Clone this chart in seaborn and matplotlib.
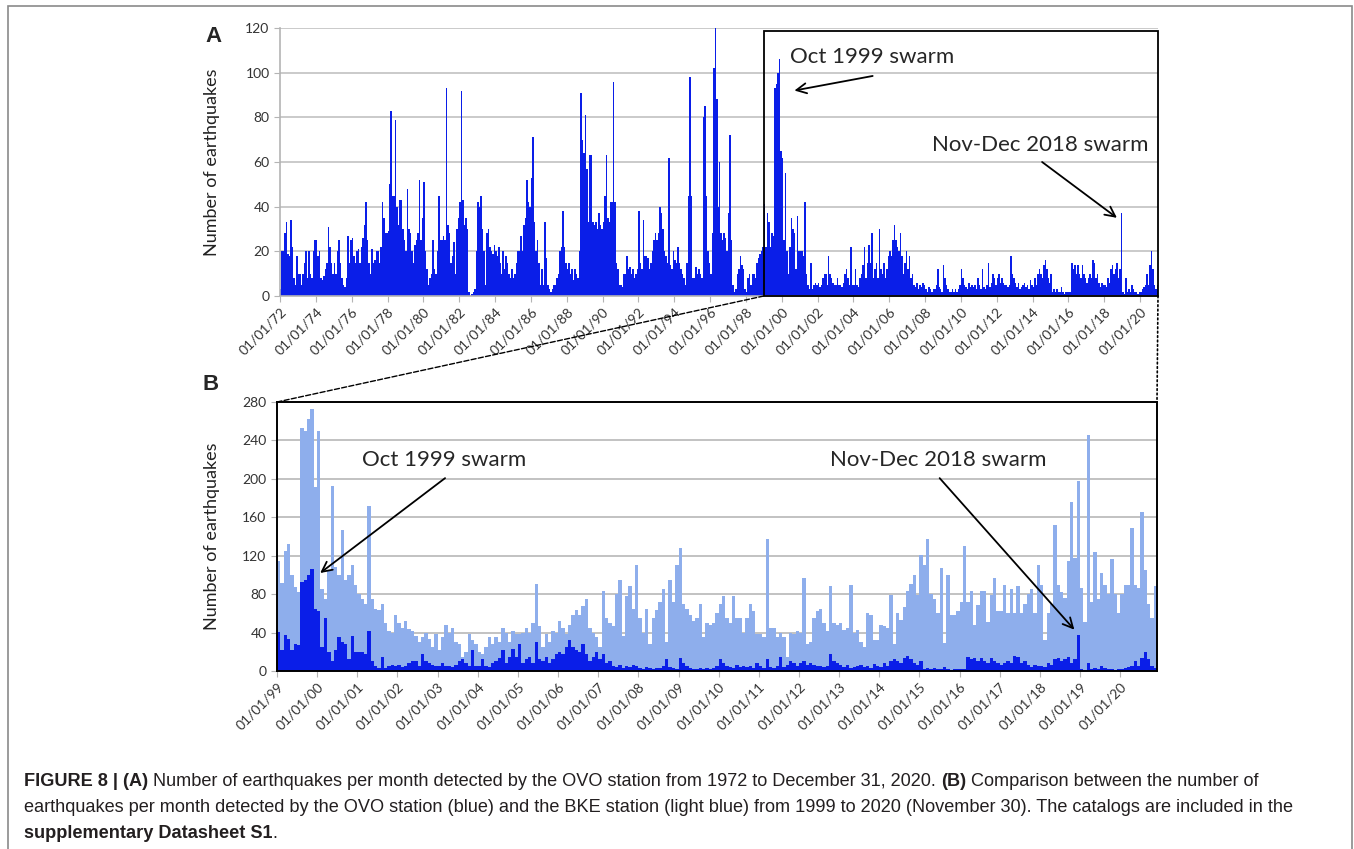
import numpy as np
import pandas as pd
import matplotlib
matplotlib.use("Agg")
import matplotlib.pyplot as plt
from matplotlib.patches import Rectangle, ConnectionPatch
import seaborn as sns

# === Data: earthquakes per month ===
# OVO station, Jan 1972 - Dec 1998 (12 values per year)
ovo_1972_1998 = [
    3, 20, 20, 28, 33, 19, 18, 34, 22, 8, 5, 18,        # 1972
    10, 10, 5, 10, 15, 20, 8, 20, 10, 8, 20, 25,        # 1973
    25, 18, 20, 8, 7, 9, 12, 15, 31, 22, 15, 10,        # 1974
    15, 10, 20, 25, 15, 8, 5, 4, 8, 27, 15, 25,         # 1975
    26, 18, 15, 20, 21, 15, 22, 26, 32, 42, 25, 15,     # 1976
    10, 21, 15, 16, 20, 20, 15, 22, 42, 35, 28, 28,     # 1977
    29, 50, 83, 45, 45, 79, 40, 32, 43, 43, 30, 25,     # 1978
    20, 48, 30, 28, 20, 15, 23, 25, 28, 52, 25, 35,     # 1979
    51, 20, 12, 5, 8, 10, 25, 12, 10, 20, 45, 25,       # 1980
    25, 27, 25, 93, 32, 28, 15, 18, 24, 10, 30, 35,     # 1981
    42, 92, 43, 32, 35, 30, 2, 0, 1, 2, 3, 20,          # 1982
    42, 40, 45, 30, 20, 5, 28, 30, 22, 20, 19, 23,      # 1983
    20, 18, 22, 15, 10, 20, 12, 18, 15, 10, 8, 12,      # 1984
    8, 10, 15, 20, 20, 27, 20, 32, 35, 52, 42, 40,      # 1985
    53, 71, 33, 20, 25, 15, 5, 12, 5, 33, 17, 5,        # 1986
    3, 2, 3, 5, 5, 8, 10, 20, 22, 38, 22, 15,           # 1987
    12, 15, 10, 12, 7, 12, 10, 8, 20, 91, 70, 64,       # 1988
    81, 57, 33, 63, 63, 33, 32, 33, 30, 37, 32, 30,     # 1989
    33, 45, 63, 35, 33, 42, 42, 96, 42, 15, 12, 5,      # 1990
    5, 4, 10, 10, 18, 12, 13, 10, 12, 8, 10, 12,        # 1991
    38, 15, 12, 34, 18, 18, 17, 12, 15, 20, 25, 28,     # 1992
    25, 28, 40, 37, 30, 20, 18, 15, 62, 14, 12, 20,     # 1993
    16, 15, 22, 15, 12, 10, 8, 5, 15, 45, 98, 45,       # 1994
    8, 8, 13, 10, 12, 10, 8, 80, 85, 45, 20, 15,        # 1995
    10, 28, 102, 120, 88, 40, 60, 28, 25, 28, 26, 20,   # 1996
    37, 72, 25, 5, 2, 3, 10, 12, 18, 14, 12, 3,         # 1997
    2, 8, 10, 5, 10, 10, 8, 15, 17, 19, 20, 22,         # 1998
]

# OVO station, Jan 1999 - Dec 2020
ovo_1999_2020 = [
    41, 22, 37, 33, 22, 28, 27, 93, 95, 100, 106, 65,   # 1999
    62, 25, 55, 20, 10, 22, 35, 30, 28, 12, 36, 20,     # 2000
    20, 20, 18, 42, 10, 5, 3, 15, 3, 5, 6, 5,           # 2001
    6, 4, 5, 8, 10, 10, 5, 18, 10, 8, 6, 5,             # 2002
    5, 8, 5, 5, 4, 6, 10, 12, 8, 5, 22, 5,              # 2003
    5, 12, 5, 4, 8, 10, 14, 22, 8, 15, 23, 15,          # 2004
    28, 8, 12, 15, 8, 30, 12, 10, 15, 8, 12, 18,        # 2005
    20, 18, 25, 32, 25, 22, 20, 28, 18, 10, 15, 20,     # 2006
    12, 18, 8, 10, 5, 4, 6, 3, 5, 4, 6, 5,              # 2007
    3, 2, 4, 3, 2, 3, 3, 5, 12, 4, 3, 2,                # 2008
    14, 8, 5, 3, 2, 2, 3, 2, 3, 2, 3, 5,                # 2009
    12, 8, 5, 4, 3, 6, 4, 5, 4, 5, 3, 8,                # 2010
    5, 3, 12, 4, 3, 5, 15, 4, 6, 10, 8, 5,              # 2011
    8, 10, 6, 8, 6, 5, 5, 4, 5, 18, 10, 8,              # 2012
    6, 4, 6, 3, 4, 5, 6, 4, 5, 3, 7, 5,                 # 2013
    4, 8, 5, 10, 12, 10, 8, 14, 16, 12, 8, 6,           # 2014
    10, 2, 3, 2, 3, 2, 2, 4, 2, 1, 2, 2,                # 2015
    2, 2, 15, 12, 14, 10, 14, 10, 8, 14, 10, 8,         # 2016
    6, 8, 10, 8, 16, 15, 8, 10, 6, 4, 6, 5,             # 2017
    5, 4, 8, 6, 12, 14, 10, 12, 15, 8, 12, 37,          # 2018
    2, 1, 8, 2, 3, 2, 5, 3, 2, 2, 1, 2,                 # 2019
    2, 3, 4, 5, 10, 5, 14, 20, 12, 5, 3, 5,             # 2020
]

# BKE station, Jan 1999 - Nov 2020
bke_1999_2020 = [
    115, 92, 125, 132, 100, 87, 82, 253, 250, 262, 273, 192,   # 1999
    250, 85, 75, 105, 193, 108, 100, 147, 95, 100, 110, 90,    # 2000
    80, 75, 70, 172, 75, 65, 63, 70, 50, 42, 40, 58,           # 2001
    50, 45, 52, 44, 42, 36, 30, 35, 40, 33, 25, 38,            # 2002
    22, 35, 48, 40, 45, 30, 28, 15, 20, 38, 32, 28,            # 2003
    20, 18, 25, 35, 28, 35, 30, 45, 40, 30, 42, 38,            # 2004
    38, 40, 45, 40, 50, 91, 47, 25, 38, 30, 42, 40,            # 2005
    52, 45, 38, 48, 58, 63, 58, 68, 75, 45, 40, 35,            # 2006
    25, 83, 55, 50, 47, 80, 95, 36, 78, 88, 65, 110,           # 2007
    55, 40, 65, 28, 55, 63, 72, 85, 30, 95, 72, 110,           # 2008
    128, 70, 65, 58, 52, 55, 70, 35, 50, 48, 50, 60,           # 2009
    70, 78, 55, 50, 78, 55, 55, 40, 55, 70, 62, 38,            # 2010
    38, 35, 137, 45, 45, 35, 40, 35, 15, 40, 38, 42,           # 2011
    40, 97, 28, 30, 55, 62, 65, 50, 42, 88, 50, 48,            # 2012
    50, 43, 45, 90, 40, 43, 30, 25, 60, 58, 32, 32,            # 2013
    48, 47, 45, 79, 28, 60, 53, 67, 83, 91, 100, 79,           # 2014
    121, 110, 137, 80, 75, 60, 107, 29, 100, 58, 58, 62,       # 2015
    72, 130, 72, 83, 48, 69, 83, 83, 51, 79, 97, 62,           # 2016
    62, 90, 60, 85, 60, 88, 60, 70, 80, 85, 60, 110,           # 2017
    90, 32, 60, 70, 152, 90, 82, 76, 114, 176, 118, 198,       # 2018
    86, 51, 246, 72, 124, 75, 102, 90, 80, 117, 80, 60,        # 2019
    80, 90, 90, 149, 90, 86, 165, 105, 70, 55, 88,             # 2020 (to Nov)
]

a_tick_years = list(range(1972, 2021, 2))
b_tick_years = list(range(1999, 2021))

# === Figure geometry (pixels) ===
W, H = 1354, 849
BLUE = "#0a1ee8"
LIGHT = "#8eaeec"
GRID = "#c6c6c6"
CHART_FONT = ["Lato", "DejaVu Sans"]
CAP_FONT = ["Liberation Sans", "DejaVu Sans"]

sns.set_style("white")
plt.rcParams["font.family"] = CHART_FONT


def fx(x):
    return x / W


def fy(y):
    return 1 - y / H


# build frames
ovo_all = ovo_1972_1998 + ovo_1999_2020
dfA = pd.DataFrame({"m": np.arange(len(ovo_all)), "n": ovo_all})
dfB_ovo = pd.DataFrame({"m": np.arange(len(ovo_1999_2020)), "n": ovo_1999_2020})
dfB_bke = pd.DataFrame({"m": np.arange(len(bke_1999_2020)), "n": bke_1999_2020})
dfB_ovo = dfB_ovo[dfB_ovo["m"] < len(bke_1999_2020)]

fig = plt.figure(figsize=(W / 100, H / 100), dpi=100)
axA = fig.add_axes([fx(280), fy(296), (1158 - 280) / W, (296 - 28) / H])
axB = fig.add_axes([fx(277), fy(671), (1157 - 277) / W, (671 - 402) / H])

# === Panel A ===
sns.barplot(data=dfA, x="m", y="n", native_scale=True, width=1, color=BLUE,
            saturation=1, linewidth=0, errorbar=None, ax=axA)
axA.set_xlim(-0.5, len(ovo_all) - 0.5)
axA.set_ylim(0, 120)
axA.set_yticks(range(0, 121, 20))
axA.yaxis.grid(True, color=GRID, lw=1.3)
axA.set_axisbelow(True)
for s in ["top", "right"]:
    axA.spines[s].set_visible(False)
for s in ["left", "bottom"]:
    axA.spines[s].set_color("#b4b4b4")
    axA.spines[s].set_linewidth(1.2)
a_pos = [(y - 1972) * 12 - 0.5 for y in a_tick_years]
axA.set_xticks(a_pos)
axA.set_xticklabels([f"01/01/{y % 100:02d}" for y in a_tick_years],
                    rotation=45, ha="right", rotation_mode="anchor")
axA.tick_params(axis="both", length=4, color="#b4b4b4", labelsize=10,
                labelcolor="#333333", direction="out", bottom=True, left=True)
axA.tick_params(axis="x", pad=3)
axA.set_xlabel("")
axA.set_ylabel("")

# 1999-2020 zoom box
start_b = len(ovo_1972_1998) - 0.5
axA.add_patch(Rectangle((start_b, 0), len(ovo_all) - 0.5 - start_b, 118.8,
                        fill=False, ec="black", lw=1.3, clip_on=False, zorder=5))

# annotations A
i_oct = int(np.argmax(ovo_1999_2020[:12])) + len(ovo_1972_1998)
axA.text(0.581, 0.892, "Oct 1999 swarm", transform=axA.transAxes, fontsize=16,
         ha="left", va="center")
axA.annotate("", xy=(i_oct + 10, ovo_all[i_oct] - 14), xycoords="data",
             xytext=(0.675, 0.821), textcoords="axes fraction",
             arrowprops=dict(arrowstyle="->", lw=1.3, color="black",
                             mutation_scale=18, shrinkA=0, shrinkB=0))
i_nov = len(ovo_1972_1998) + 12 * 19 + 11
axA.text(0.743, 0.563, "Nov-Dec 2018 swarm", transform=axA.transAxes, fontsize=16,
         ha="left", va="center")
axA.annotate("", xy=(i_nov - 3, ovo_all[i_nov] - 2), xycoords="data",
             xytext=(0.868, 0.50), textcoords="axes fraction",
             arrowprops=dict(arrowstyle="->", lw=1.3, color="black",
                             mutation_scale=18, shrinkA=0, shrinkB=0))

# === Panel B ===
sns.barplot(data=dfB_bke, x="m", y="n", native_scale=True, width=1, color=LIGHT,
            saturation=1, linewidth=0, errorbar=None, ax=axB)
sns.barplot(data=dfB_ovo, x="m", y="n", native_scale=True, width=1, color=BLUE,
            saturation=1, linewidth=0, errorbar=None, ax=axB)
axB.set_xlim(-0.5, len(bke_1999_2020) - 0.5)
axB.set_ylim(0, 280)
axB.set_yticks(range(0, 281, 40))
axB.yaxis.grid(True, color="#bdbdbd", lw=1.3)
axB.set_axisbelow(True)
for s in axB.spines.values():
    s.set_color("black")
    s.set_linewidth(1.4)
b_pos = [(y - 1999) * 12 - 0.5 for y in b_tick_years]
axB.set_xticks(b_pos)
axB.set_xticklabels([f"01/01/{y % 100:02d}" for y in b_tick_years],
                    rotation=45, ha="right", rotation_mode="anchor")
axB.tick_params(axis="both", length=4, color="#b4b4b4", labelsize=10,
                labelcolor="#333333", direction="out", bottom=True, left=True)
axB.tick_params(axis="x", pad=3)
axB.set_xlabel("")
axB.set_ylabel("")

i_oct_b = int(np.argmax(ovo_1999_2020[:12]))
axB.text(0.0966, 0.784, "Oct 1999 swarm", transform=axB.transAxes, fontsize=16,
         ha="left", va="center")
axB.annotate("", xy=(i_oct_b + 2.4, ovo_1999_2020[i_oct_b] - 4), xycoords="data",
             xytext=(0.191, 0.717), textcoords="axes fraction",
             arrowprops=dict(arrowstyle="->", lw=1.3, color="black",
                             mutation_scale=18, shrinkA=0, shrinkB=0))
i_nov_b = 12 * 19 + 11
axB.text(0.628, 0.784, "Nov-Dec 2018 swarm", transform=axB.transAxes, fontsize=16,
         ha="left", va="center")
axB.annotate("", xy=(i_nov_b - 1.2, ovo_1999_2020[i_nov_b] + 6), xycoords="data",
             xytext=(0.753, 0.717), textcoords="axes fraction",
             arrowprops=dict(arrowstyle="->", lw=1.3, color="black",
                             mutation_scale=18, shrinkA=0, shrinkB=0))

# connectors between the panels
fig.add_artist(ConnectionPatch(xyA=(start_b, 0), coordsA=axA.transData,
                               xyB=(0, 1), coordsB=axB.transAxes,
                               ls="--", lw=1.0, color="black"))
fig.add_artist(ConnectionPatch(xyA=(len(ovo_all) - 0.5, 0), coordsA=axA.transData,
                               xyB=(1, 1), coordsB=axB.transAxes,
                               ls=":", lw=1.2, color="black"))

# axis titles and panel letters
for yc in (162, 536):
    fig.text(fx(212), fy(yc), "Number of earthquakes", rotation=90,
             ha="center", va="center", fontsize=13, color="#222222")
fig.text(fx(213), fy(36), "A", fontsize=16, fontweight="bold", family=CAP_FONT,
         ha="center", va="center")
fig.text(fx(211), fy(385), "B", fontsize=16, fontweight="bold", family=CAP_FONT,
         ha="center", va="center")

# outer frame
fig.add_artist(Rectangle((fx(8), fy(870)), (1352 - 8) / W, (870 - 6) / H,
                         transform=fig.transFigure, fill=False, ec="#8a8a8a",
                         lw=1.2, clip_on=False))

# === Caption with mixed bold runs ===
renderer = fig.canvas.get_renderer()


def rich_line(x_px, y_px, parts, size=13.1):
    x = x_px
    for txt, bold in parts:
        t = fig.text(fx(x), fy(y_px), txt, fontsize=size, family=CAP_FONT,
                     fontweight="bold" if bold else "normal", color="#231f20",
                     ha="left", va="center")
        x += t.get_window_extent(renderer).width


rich_line(24, 782, [("FIGURE 8 | (A)", True),
                    (" Number of earthquakes per month detected by the OVO station from 1972 to December 31, 2020. ", False),
                    ("(B)", True),
                    (" Comparison between the number of", False)])
rich_line(24, 807, [("earthquakes per month detected by the OVO station (blue) and the BKE station "
                     "(light blue) from 1999 to 2020 (November 30). The catalogs are included in the", False)])
rich_line(24, 833, [("supplementary Datasheet S1", True), (".", False)])

fig.savefig("out.png", dpi=100)
